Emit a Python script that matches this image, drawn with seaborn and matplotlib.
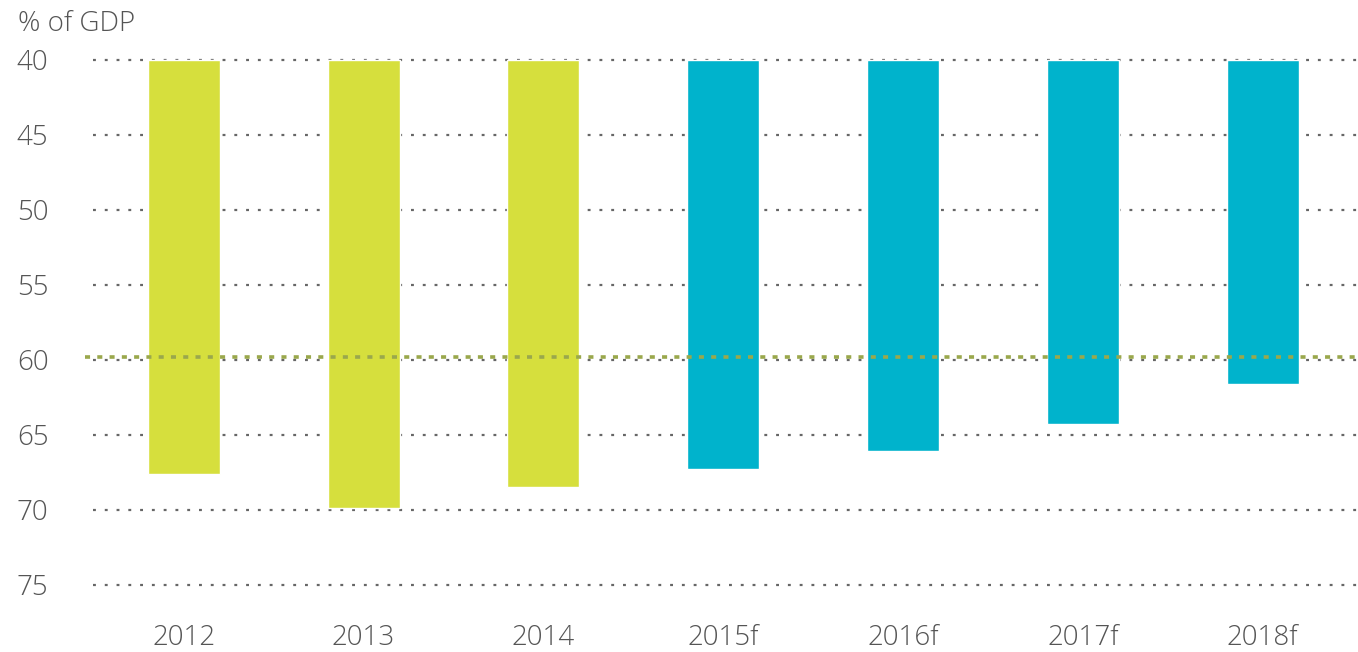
import seaborn as sns
import pandas as pd
import matplotlib.pyplot as plt

# values (% of GDP), bars hang from 40 downwards
years = ["2012", "2013", "2014", "2015f", "2016f", "2017f", "2018f"]
debt = [67.6, 69.9, 68.5, 67.3, 66.1, 64.3, 61.6]
kind = ["actual", "actual", "actual", "forecast", "forecast", "forecast", "forecast"]
yticks = [40, 45, 50, 55, 60, 65, 70, 75]
ref_level = 59.8
base = 40

colors = {"actual": "#D6DF3D", "forecast": "#00B3CC"}
txt = "#555555"

df = pd.DataFrame({"year": years, "debt": debt, "kind": kind})
df["h"] = df["debt"] - base

sns.set_style("white")
plt.rcParams["font.family"] = ["Open Sans", "DejaVu Sans"]
plt.rcParams["font.weight"] = "light"

fig = plt.figure(figsize=(13.58, 6.52), dpi=100)
ax = fig.add_axes([93 / 1358, 1 - 600 / 652, 1 - 93 / 1358, (600 - 45) / 652])

sns.barplot(data=df, x="year", y="h", hue="kind", palette=colors, dodge=False,
            width=0.4, bottom=base, saturation=1, legend=False, ax=ax, zorder=2)

ax.set_ylim(76, 39)
ax.set_xlim(-0.505, 6.53)
ax.set_yticks(yticks)
for y in yticks:
    ax.axhline(y, color="#666666", lw=1.6, ls=(0, (1.3, 4.0)), zorder=1)
ax.axhline(ref_level, xmin=-0.006, xmax=1, color="#9AA84C", lw=2.6,
           ls=(0, (1.4, 2.0)), zorder=3, clip_on=False)

ax.set_xlabel("")
ax.set_ylabel("")
ax.tick_params(axis="both", length=0, labelsize=20, labelcolor=txt)
ax.tick_params(axis="y", pad=32)
ax.tick_params(axis="x", pad=17)
sns.despine(left=True, bottom=True)

fig.text(18 / 1358, 1 - 31 / 652, "% of GDP", fontsize=20, color=txt,
         va="baseline", ha="left")

fig.savefig("out.png", dpi=100)
